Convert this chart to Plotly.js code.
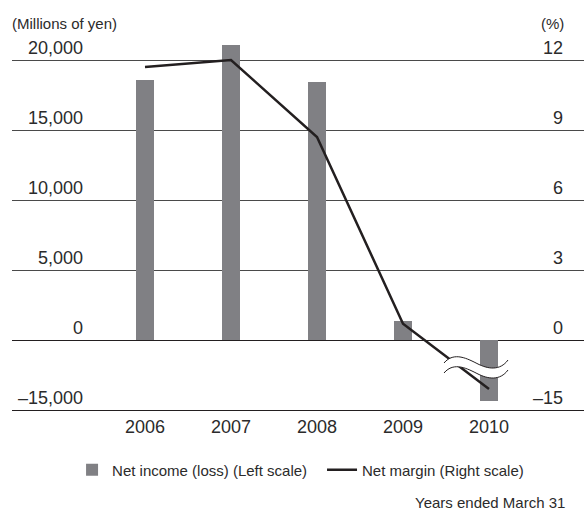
<!DOCTYPE html>
<html>
<head>
<meta charset="utf-8">
<script src="https://cdn.plot.ly/plotly-3.0.1.min.js"></script>
<style>
  html, body { margin: 0; padding: 0; background: #fff; }
  #chart { width: 584px; height: 513px; }
</style>
</head>
<body>
<div id="chart"></div>
<script>
// ---- Data ----
const years = ['2006', '2007', '2008', '2009', '2010'];
const netIncome = [18600, 21100, 18400, 1360, -13000];   // Millions of yen (left scale)
const netMargin = [11.7, 12.0, 8.7, 0.7, -10.5];         // % (right scale)

const leftTickVals = [20000, 15000, 10000, 5000, 0, -15000];
const leftTickText = ['20,000', '15,000', '10,000', '5,000', '0', '\u201315,000'];
const rightTickVals = [12, 9, 6, 3, 0, -15];
const rightTickText = ['12', '9', '6', '3', '0', '\u201315'];

// ---- Broken-axis mapping (negative part compressed, as in the reference) ----
const leftBreak = v => (v >= 0 ? v : v / 3);   // -15,000 shown one step below 0
const rightBreak = v => (v >= 0 ? v : v / 5);  // -15 shown one step below 0

const xNum = years.map(Number);
const FONT = 'Liberation Sans, Arial, sans-serif';
const TXT = '#2b2b2b';

const traces = [
  {
    type: 'bar',
    name: 'Net income (loss) (Left scale)',
    x: xNum,
    y: netIncome.map(leftBreak),
    customdata: netIncome,
    width: 0.2,
    marker: { color: '#808084' },
    yaxis: 'y',
    legend: 'legend',
    hoverinfo: 'skip'
  },
  {
    type: 'scatter',
    mode: 'lines',
    name: 'Net margin (Right scale)',
    x: xNum,
    y: netMargin.map(rightBreak),
    customdata: netMargin,
    line: { color: '#231f20', width: 2.5 },
    yaxis: 'y2',
    legend: 'legend2',
    hoverinfo: 'skip'
  }
];

const annotations = [];
leftTickVals.forEach((v, i) => {
  annotations.push({
    xref: 'paper', yref: 'y', x: 0.1276, y: leftBreak(v),
    xanchor: 'right', yanchor: 'bottom', showarrow: false,
    text: leftTickText[i], font: { family: FONT, size: 18, color: TXT }
  });
});
rightTickVals.forEach((v, i) => {
  annotations.push({
    xref: 'paper', yref: 'y2', x: 0.9668, y: rightBreak(v),
    xanchor: 'right', yanchor: 'bottom', showarrow: false,
    text: rightTickText[i], font: { family: FONT, size: 18, color: TXT }
  });
});
annotations.push(
  { xref: 'paper', yref: 'paper', x: -0.0035, y: 1.0238, xanchor: 'left', yanchor: 'middle',
    showarrow: false, text: '(Millions of yen)', font: { family: FONT, size: 15, color: TXT } },
  { xref: 'paper', yref: 'paper', x: 0.968, y: 1.0238, xanchor: 'right', yanchor: 'middle',
    showarrow: false, text: '(%)', font: { family: FONT, size: 15, color: TXT } },
  { xref: 'paper', yref: 'paper', x: 0.970, y: -0.2725, xanchor: 'right', yanchor: 'bottom',
    showarrow: false, text: 'Years ended March 31', font: { family: FONT, size: 15, color: TXT } }
);

// ---- Axis-break symbol (wavy gap) drawn in pixels around the last category ----
function shiftPath(pts, dx) {
  return pts.replace(/(-?\d+(?:\.\d+)?),(-?\d+(?:\.\d+)?)/g, (m, a, b) => (parseFloat(a) + dx) + ',' + b);
}
const dx = -13;
const upper = 'M-32,3 C-22,15 -8,7 2,2 C12,-3 24,-5 32,6';
const lower = 'M-32,-7 C-22,5 -8,-3 2,-8 C12,-13 24,-15 32,-4';
const band = 'M-32,3 C-22,15 -8,7 2,2 C12,-3 24,-5 32,6 L32,-4 C24,-15 12,-13 2,-8 C-8,-3 -22,5 -32,-7 Z';
const breakAnchorX = xNum[xNum.length - 1];
const breakAnchorY = -1857;
const shapes = [
  { type: 'path', xref: 'x', yref: 'y', xsizemode: 'pixel', ysizemode: 'pixel',
    xanchor: breakAnchorX, yanchor: breakAnchorY, path: shiftPath(band, dx),
    fillcolor: '#ffffff', line: { width: 0 }, layer: 'above' },
  { type: 'path', xref: 'x', yref: 'y', xsizemode: 'pixel', ysizemode: 'pixel',
    xanchor: breakAnchorX, yanchor: breakAnchorY, path: shiftPath(upper, dx),
    line: { color: '#231f20', width: 1 }, layer: 'above' },
  { type: 'path', xref: 'x', yref: 'y', xsizemode: 'pixel', ysizemode: 'pixel',
    xanchor: breakAnchorX, yanchor: breakAnchorY, path: shiftPath(lower, dx),
    line: { color: '#231f20', width: 1 }, layer: 'above' }
];

const layout = {
  width: 584,
  height: 513,
  margin: { l: 12, r: 0, t: 32, b: 103 },
  paper_bgcolor: '#ffffff',
  plot_bgcolor: '#ffffff',
  font: { family: FONT, color: TXT },
  showlegend: true,
  legend: {
    orientation: 'h', x: 0.105, xanchor: 'left', y: -0.159, yanchor: 'middle',
    font: { family: FONT, size: 15, color: TXT }
  },
  legend2: {
    orientation: 'h', x: 0.542, xanchor: 'left', y: -0.159, yanchor: 'middle',
    font: { family: FONT, size: 15, color: TXT }
  },
  xaxis: {
    type: 'linear',
    range: [2004.4535, 2011.1047],
    tickvals: xNum,
    ticktext: years,
    tickfont: { family: FONT, size: 18, color: TXT },
    showgrid: false,
    zeroline: false,
    showline: true,
    linecolor: '#231f20',
    linewidth: 1,
    ticks: '',
    fixedrange: true
  },
  yaxis: {
    range: [-5000, 22000],
    tickvals: leftTickVals.map(leftBreak),
    showticklabels: false,
    showgrid: true,
    gridcolor: '#4a4a4a',
    gridwidth: 1,
    zeroline: true,
    zerolinecolor: '#231f20',
    zerolinewidth: 1,
    showline: false,
    ticks: '',
    fixedrange: true
  },
  yaxis2: {
    overlaying: 'y',
    side: 'right',
    range: [-3, 13.2],
    showticklabels: false,
    showgrid: false,
    zeroline: false,
    showline: false,
    ticks: '',
    fixedrange: true
  },
  annotations: annotations,
  shapes: shapes,
  bargap: 0
};

Plotly.newPlot('chart', traces, layout, { displayModeBar: false, staticPlot: true });
</script>
</body>
</html>
